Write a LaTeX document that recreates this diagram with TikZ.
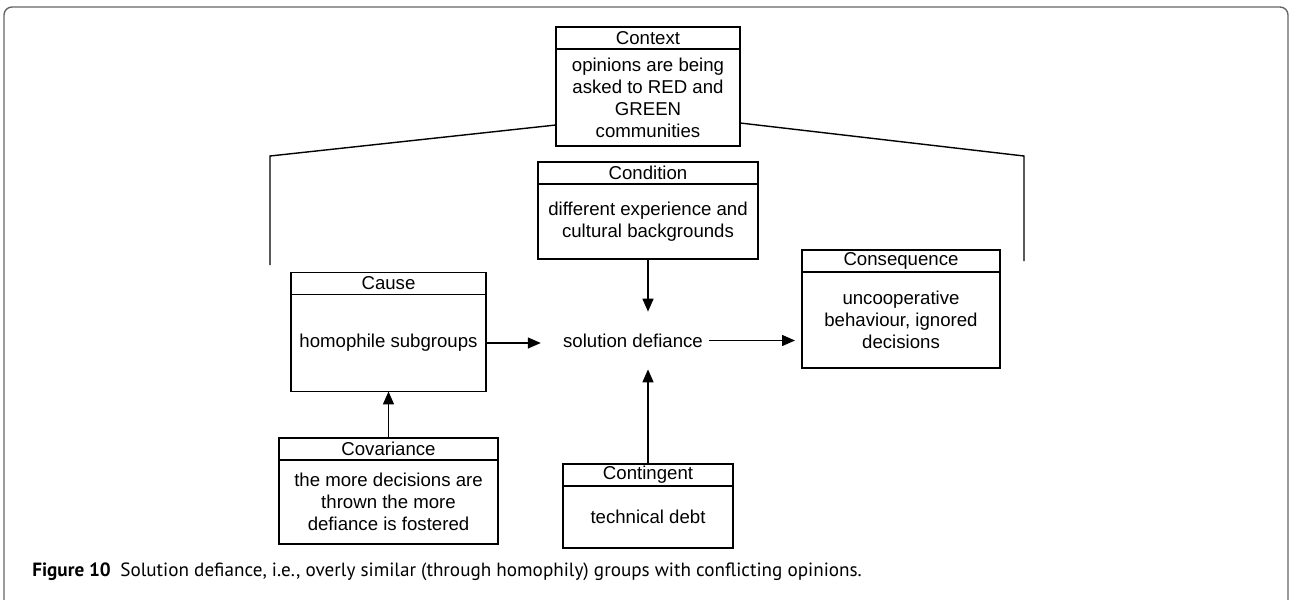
\documentclass[tikz,border=0pt]{standalone}
\usepackage{fontspec}
\setmainfont{Liberation Sans}
\newfontfamily\capfont{PT Sans}
\usetikzlibrary{positioning,arrows.meta}

\tikzset{
  headbox/.style={draw, line width=0.8pt, inner sep=0pt, outer sep=0pt,
    minimum height=0.44cm, font=\fontsize{10.6}{12.5}\selectfont},
  bodybox/.style={draw, line width=0.8pt, inner sep=0pt, outer sep=0pt,
    align=center, font=\fontsize{10.6}{12.5}\selectfont},
  arr/.style={line width=0.8pt, -{Triangle[length=0.26cm,width=0.22cm]}},
}

\begin{document}
\begin{tikzpicture}[x=0.02cm,y=0.02cm]
\useasboundingbox (0,0) rectangle (1291,-599);
% Frame
\draw[black!60, line width=0.8pt, rounded corners=0.16cm] (4,-7) rectangle (1288,-612);

% Context
\node[headbox, minimum width=3.68cm] (ctxh) at (648,-38) {Context};
\node[bodybox, minimum width=3.68cm, minimum height=1.94cm, below=0pt of ctxh] (ctx)
  {opinions are being\\asked to RED and\\GREEN\\communities};

% Condition
\node[headbox, minimum width=4.4cm] (condh) at (648,-173) {Condition};
\node[bodybox, minimum width=4.4cm, minimum height=1.5cm, below=0pt of condh] (cond)
  {different experience and\\cultural backgrounds};

% Cause
\node[headbox, minimum width=3.9cm] (causeh) at (388.5,-283.5) {Cause};
\node[bodybox, minimum width=3.9cm, minimum height=1.94cm, below=0pt of causeh] (cause)
  {homophile subgroups};

% Consequence
\node[headbox, minimum width=3.96cm] (consh) at (901,-261) {Consequence};
\node[bodybox, minimum width=3.96cm, minimum height=1.92cm, below=0pt of consh] (cons)
  {uncooperative\\behaviour, ignored\\decisions};

% Covariance
\node[headbox, minimum width=4.38cm] (covh) at (388.5,-449) {Covariance};
\node[bodybox, minimum width=4.38cm, minimum height=1.68cm, below=0pt of covh] (cov)
  {the more decisions are\\thrown the more\\defiance is fostered};

% Contingent
\node[headbox, minimum width=3.4cm] (conth) at (648,-475) {Contingent};
\node[bodybox, minimum width=3.4cm, minimum height=1.24cm, below=0pt of conth] (cont)
  {technical debt};

% Phenomenon
\node[font=\fontsize{10.6}{12.5}\selectfont, minimum height=1.14cm, inner xsep=0.12cm, inner ysep=0pt]
  (sd) at (633,-340.5) {solution defiance};

% Context bracket
\coordinate (bl) at (270,-156);
\coordinate (br) at (1024,-156);
\draw[line width=0.8pt] ([yshift=-0.55cm]ctx.west) -- (bl) -- ++(0,-109);
\draw[line width=0.8pt] ([yshift=-0.51cm]ctx.east) -- (br) -- ++(0,-105);

% Flows
\draw[arr] (cond) -- (cond.south |- sd.north);
\draw[arr] (conth) -- (conth.north |- sd.south);
\draw[arr, shorten >=0.32cm] (cause.east) -- (cause.east -| sd.west);
\draw[arr, shorten >=0.14cm] (sd.east) -- (sd.east -| cons.west);
\draw[arr] (covh) -- (cause);

% Caption
\node[anchor=west, inner sep=0pt, font=\capfont\fontsize{10.9}{12.5}\selectfont] (cap) at (32,-572)
  {\textbf{Figure 10}\hspace{0.5em}Solution defiance, i.e., overly similar (through homophily) groups with conflicting opinions.};
\end{tikzpicture}
\end{document}
